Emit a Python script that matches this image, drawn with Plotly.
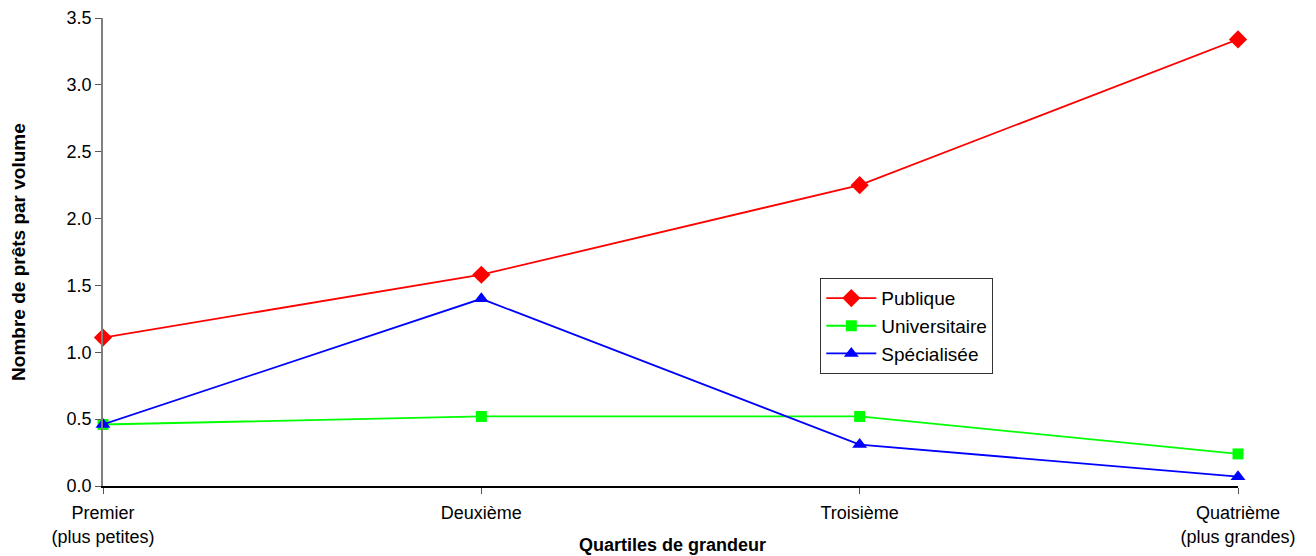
import plotly.graph_objects as go

# Quartiles de grandeur
categories = ["Premier<br>(plus petites)", "Deuxième", "Troisième", "Quatrième<br>(plus grandes)"]

publique = [1.11, 1.58, 2.25, 3.34]
universitaire = [0.46, 0.52, 0.52, 0.24]
specialisee = [0.46, 1.40, 0.31, 0.07]

FONT = "Liberation Sans, Arial, sans-serif"

fig = go.Figure()

series = [
    ("Publique", publique, "#ff0000", "diamond", 14),
    ("Universitaire", universitaire, "#00ff00", "square", 11),
    ("Spécialisée", specialisee, "#0000ff", "triangle-up", 13),
]
for name, vals, color, symbol, size in series:
    fig.add_trace(go.Scatter(
        x=categories, y=vals, name=name,
        mode="lines+markers",
        line=dict(color=color, width=1.8),
        marker=dict(symbol=symbol, size=size, color=color),
        cliponaxis=False,
    ))

fig.update_layout(
    width=1316, height=556,
    paper_bgcolor="white", plot_bgcolor="white",
    margin=dict(l=103, r=78, t=18, b=70),
    font=dict(family=FONT, size=18, color="black"),
    legend=dict(
        x=0.632, y=0.444, xanchor="left", yanchor="top",
        bgcolor="white", bordercolor="#333333", borderwidth=1,
        font=dict(size=19), itemwidth=50,
    ),
    # axis titles as annotations so they can sit where the original puts them
    annotations=[
        dict(text="<b>Quartiles de grandeur</b>", xref="paper", yref="paper",
             x=0.502, y=-0.126, xanchor="center", yanchor="middle",
             showarrow=False, font=dict(size=18)),
        dict(text="<b>Nombre de prêts par volume</b>", xref="paper", yref="paper",
             x=-0.075, y=0.5, xanchor="center", yanchor="middle", textangle=-90,
             showarrow=False, font=dict(size=19)),
    ],
)

fig.update_xaxes(
    type="category", range=[0, 3], automargin=False,
    showline=True, linecolor="black", linewidth=1.5,
    ticks="outside", ticklen=6, tickcolor="#555555",
    showgrid=False, zeroline=False,
    tickfont=dict(size=18), ticklabelstandoff=4,
)
fig.update_yaxes(
    range=[0, 3.5], dtick=0.5, tickformat=".1f", automargin=False,
    showline=True, linecolor="#808080", linewidth=1.5,
    ticks="outside", ticklen=6, tickcolor="#555555",
    showgrid=False, zeroline=False,
    tickfont=dict(size=18),
)

# drop the page's default body margin so the figure sits at 0,0
fig.write_html("out.html", config={"displayModeBar": False},
               post_script="document.body.style.margin='0';")
